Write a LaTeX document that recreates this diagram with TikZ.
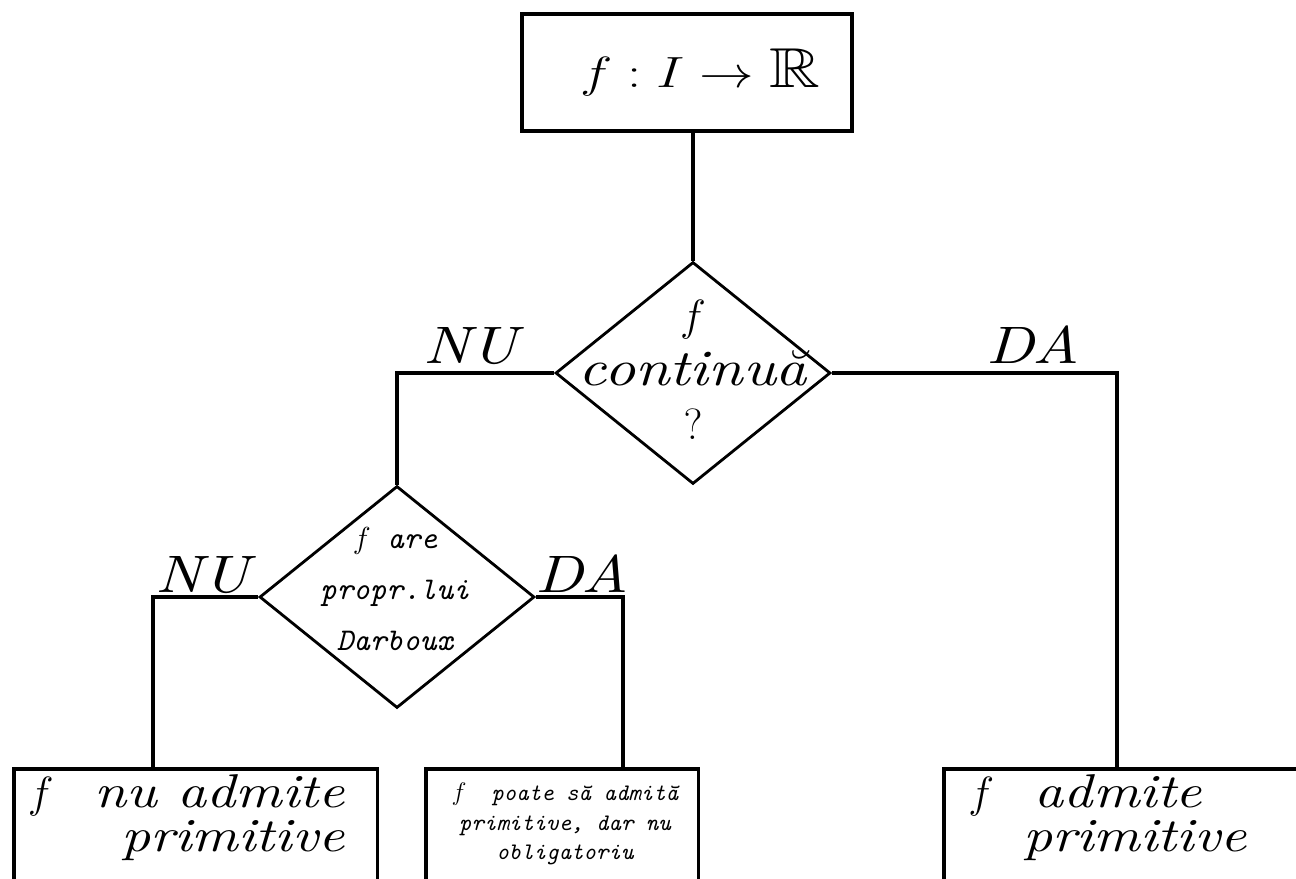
\documentclass[tikz,border=0pt]{standalone}
\usepackage{amssymb}
\usepackage{graphicx}
\usepackage{fontspec}
\usetikzlibrary{shapes.geometric}
\newfontfamily\wideit{lmroman10-italic}[Extension=.otf, FakeStretch=1.2]
\newfontfamily\monoit{lmmono10-italic}[Extension=.otf]
\tikzset{
  conn/.style={line width=2.4pt},
  box/.style={draw, rectangle, line width=2pt, inner sep=0pt},
  decide/.style={draw, diamond, line width=1.6pt, inner sep=0pt,
    minimum width=5.5cm, minimum height=4.44cm},
  bigtxt/.style={font=\wideit\fontsize{29}{31}\selectfont, align=center, inner sep=0pt},
  endtxt/.style={font=\wideit\fontsize{27}{25}\selectfont, inner sep=0pt},
  smalltxt/.style={font=\monoit\fontsize{18}{29}\selectfont, align=center, inner sep=0pt},
  tinytxt/.style={font=\monoit\fontsize{13.5}{17}\selectfont, align=center, inner sep=0pt},
  answer/.style={font=\wideit\fontsize{30}{30}\selectfont, anchor=base, inner sep=0pt}
}
\begin{document}
\begin{tikzpicture}[x=0.02cm,y=-0.02cm]
	\useasboundingbox (0,0) rectangle (1296,879);
	\clip (0,0) rectangle (1296,879);
	\node[box, minimum width=6.6cm, minimum height=2.34cm, font=\fontsize{32}{34}\selectfont] (fIR) at (687,72.5) {\hspace*{0.52cm}\scalebox{1.25}[1]{$f:I\to\mathbb{R}$}};
	\node[decide] (cont) at (693,373) {};
	\node[bigtxt] (contTxt) at (693,370) {$f$\\continuă\\$?$};
	\node[decide] (darb) at (397,597) {};
	\node[smalltxt] (darbTxt) at (395,589) {$f$ are\\propr.lui\\Darboux};
	\node[box, anchor=north west, minimum width=7.28cm, minimum height=3cm] (nuPrim) at (12,767) {};
	\node[box, anchor=north west, minimum width=5.46cm, minimum height=3cm] (poatePrim) at (424,767) {};
	\node[box, anchor=north west, minimum width=8cm, minimum height=3cm] (admPrim) at (942,767) {};
	\coordinate (inL) at (153,767);
	\coordinate (inM) at (623,767);
	\coordinate (inR) at (1117,767);
	\draw[conn] (fIR.south -| cont.north) -- (cont.north);
	\draw[conn] (cont.west) -| (darb.north);
	\draw[conn] (cont.east) -| (inR);
	\draw[conn] (darb.west) -| (inL);
	\draw[conn] (darb.east) -| (inM);
	\node[answer] (nu1) at (470,363) {NU};
	\node[answer] (da1) at (1033,363) {DA};
	\node[answer] (nu2) at (202,592) {NU};
	\node[answer] (da2) at (582,592) {DA};
	\node[endtxt, align=right, anchor=east] (nuTxt) at (345,818) {$f$\ \ nu admite\\primitive};
	\node[tinytxt] (poateTxt) at (565,824) {$f$\ \ poate să admită\\primitive, dar nu\\obligatoriu};
	\node[endtxt, align=left, anchor=west] (admTxt) at (968,818) {$f$\ \ admite\\\hspace*{1.1cm}primitive};
\end{tikzpicture}
\end{document}
